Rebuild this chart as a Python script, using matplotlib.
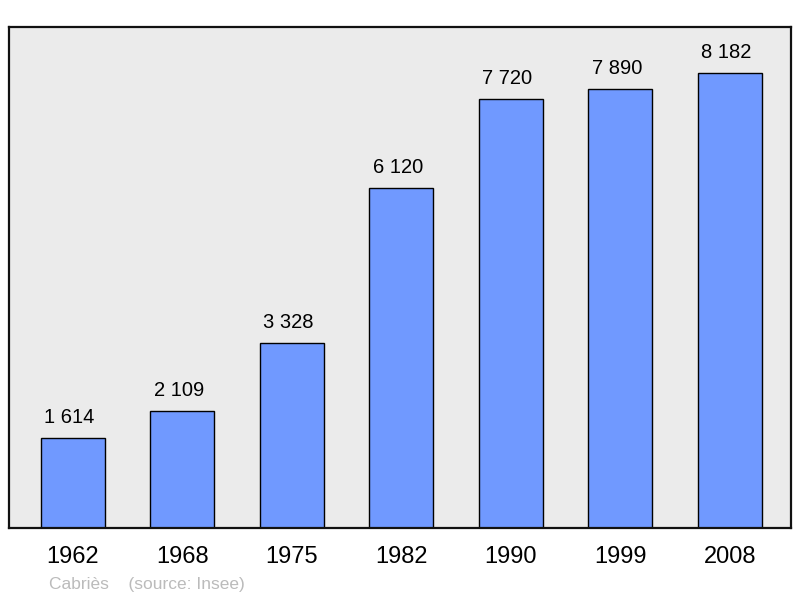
import matplotlib
matplotlib.use("Agg")
import matplotlib.pyplot as plt

plt.rcParams['font.family'] = ['Liberation Sans', 'DejaVu Sans']

years = ["1962", "1968", "1975", "1982", "1990", "1999", "2008"]
population = [1614, 2109, 3328, 6120, 7720, 7890, 8182]
value_labels = ["1 614", "2 109", "3 328", "6 120", "7 720", "7 890", "8 182"]

fig = plt.figure(figsize=(8, 5.98), dpi=100)
ax = fig.add_axes([0.01125, 0.1171, 0.9775, 0.8377])
ax.set_facecolor("#ebebeb")

x = range(len(years))
ax.bar(x, population, width=0.585, color="#7099ff", edgecolor="black", linewidth=1.0, zorder=2)

for i, (v, lab) in enumerate(zip(population, value_labels)):
    ax.annotate(lab, (i, v), xytext=(-2.5, 8), textcoords="offset points",
                ha="center", va="bottom", fontsize=14.5, color="black")

ax.set_xlim(-0.585, 6.56)
ax.set_ylim(0, 9010)
ax.set_xticks(list(x))
ax.set_xticklabels(years, fontsize=17)
ax.tick_params(axis="x", length=0, pad=13)
ax.set_yticks([])
for s in ax.spines.values():
    s.set_linewidth(1.6)
    s.set_color("#111111")

fig.text(0.061, 0.01, "Cabriès    (source: Insee)", fontsize=12.5, color="#bbbbbb", ha="left", va="bottom")

fig.savefig("out.png", dpi=100)
